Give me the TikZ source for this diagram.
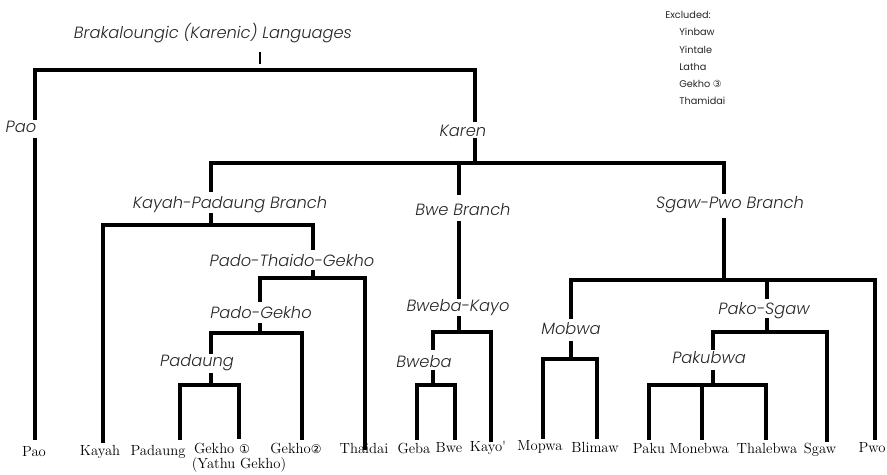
\documentclass[tikz,border=0pt]{standalone}
\usepackage{fontspec}
\newfontfamily\labfont{Poppins}[UprightFont=* Light, ItalicFont=* Light Italic]
\newfontfamily\exfont{Poppins}
\newfontfamily\symfont{DejaVu Sans}
\begin{document}
\begin{tikzpicture}[x=0.75pt,y=-0.75pt,
  br/.style={line width=2.4pt,line cap=rect,line join=miter},
  thin/.style={line width=0.8pt},
  grp/.style={font=\labfont\itshape\fontsize{12.2}{14}\selectfont,text=black!85,inner sep=0pt,anchor=center},
  leaf/.style={font=\fontsize{11}{12}\selectfont,inner sep=0pt,anchor=center},
  excl/.style={font=\exfont\fontsize{7.3}{8}\selectfont,text=black!85,inner sep=0pt,anchor=west}]
\useasboundingbox (0,0) rectangle (887,474);
% group labels
\node[grp] (root) at (213,33) {Brakaloungic (Karenic) Languages};
\node[grp] (paoG) at (21,127) {Pao};
\node[grp] (karen) at (463,131) {Karen};
\node[grp] (kp) at (230,205) {Kayah-Padaung Branch};
\node[grp] (ptg) at (292,260) {Pado-Thaido-Gekho};
\node[grp] (pg) at (261,313) {Pado-Gekho};
\node[grp] (pad) at (197,363) {Padaung};
\node[grp] (bwe) at (463,210) {Bwe Branch};
\node[grp] (bk) at (458,308) {Bweba-Kayo};
\node[grp] (bweba) at (424,362) {Bweba};
\node[grp] (sp) at (730,205) {Sgaw-Pwo Branch};
\node[grp] (mob) at (571,329) {Mobwa};
\node[grp] (pks) at (764,311) {Pako-Sgaw};
\node[grp] (pkb) at (709,358) {Pakubwa};
% leaves
\node[leaf] (lpao) at (34,452) {Pao};
\node[leaf] (lkayah) at (100,452) {Kayah};
\node[leaf] (lpad) at (158,452) {Padaung};
\node[leaf] (lg1) at (222,448) {Gekho {\symfont\fontsize{9}{10}\selectfont ①}};
\node[leaf] (lyg) at (239,465) {(Yathu Gekho)};
\node[leaf] (lg2) at (296,448) {Gekho{\symfont\fontsize{9}{10}\selectfont ②}};
\node[leaf] (lth) at (364,448) {Thaidai};
\node[leaf] (lgeba) at (414,448) {Geba};
\node[leaf] (lbwe) at (449,448) {Bwe};
\node[leaf] (lkayo) at (488,448) {Kayo\textquotesingle};
\node[leaf] (lmop) at (540,447) {Mopwa};
\node[leaf] (lbli) at (595,447) {Blimaw};
\node[leaf] (lpaku) at (649,448) {Paku};
\node[leaf] (lmon) at (699,448) {Monebwa};
\node[leaf] (ltha) at (767,448) {Thalebwa};
\node[leaf] (lsgaw) at (820,450) {Sgaw};
\node[leaf] (lpwo) at (872,448) {Pwo};
% excluded
\node[excl] (ex0) at (665,15) {Excluded:};
\node[excl] (ex1) at (679,32) {Yinbaw};
\node[excl] (ex2) at (679,50) {Yintale};
\node[excl] (ex3) at (679,67) {Latha};
\node[excl] (ex4) at (679,84) {Gekho {\symfont ③}};
\node[excl] (ex5) at (679,101) {Thamidai};
% connectors
\draw[thin] (260,52) -- (260,64);
\draw[br] (35,118) -- (35,70) -- (475,70) -- (475,120);
\draw[br] (35,140) -- (35,438);
\draw[br] (475,140) -- (475,163);
\draw[br] (211,190) -- (211,163) -- (724,163) -- (724,192);
\draw[br] (459,163) -- (459,193);
% Kayah-Padaung
\draw[br] (211,215) -- (211,225);
\draw[br] (103,441) -- (103,225) -- (313,225) -- (313,248);
\draw[br] (313,272) -- (313,278);
\draw[br] (260,300) -- (260,278) -- (365,278) -- (365,448);
\draw[br] (260,325) -- (260,333);
\draw[br] (211,352) -- (211,333) -- (302,333) -- (302,438);
\draw[br] (211,375) -- (211,385);
\draw[br] (180,438) -- (180,385) -- (239,385) -- (239,437);
% Bwe
\draw[br] (459,223) -- (459,297);
\draw[br] (459,318) -- (459,332);
\draw[br] (433,348) -- (433,332) -- (491,332) -- (491,440);
\draw[br] (433,372) -- (433,385);
\draw[br] (417,438) -- (417,385) -- (455,385) -- (455,438);
% Sgaw-Pwo
\draw[br] (724,220) -- (724,280);
\draw[br] (571,317) -- (571,280) -- (875,280) -- (875,438);
\draw[br] (571,343) -- (571,359);
\draw[br] (543,437) -- (543,359) -- (597,359) -- (597,437);
\draw[br] (767,283) -- (767,297);
\draw[br] (767,320) -- (767,332);
\draw[br] (713,348) -- (713,332) -- (827,332) -- (827,440);
\draw[br] (713,372) -- (713,385);
\draw[br] (649,438) -- (649,385) -- (766,385) -- (766,438);
\draw[br] (702,385) -- (702,438);
\end{tikzpicture}
\end{document}
